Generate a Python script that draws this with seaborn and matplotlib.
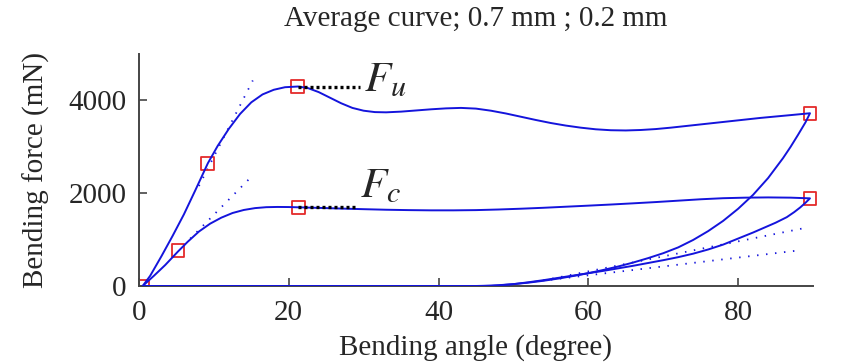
import numpy as np
import pandas as pd
import matplotlib
matplotlib.use("Agg")
import matplotlib.pyplot as plt
import seaborn as sns

# ---- data ----
# upper curve (F_u): loading 0 -> 90 deg, then unloading back to 0
fu_load_x = [0.5, 1.5, 3, 4.5, 6, 7.5, 9.2, 10.5, 12, 13.5, 15, 16.5, 18, 19.5, 21.2, 22.5, 24,
             25.5, 27, 28.5, 30, 31.5, 33, 35, 37, 39, 41, 43, 45, 47, 49, 51, 53, 55, 57, 59,
             61, 63, 65, 67, 69, 71, 73, 75, 77, 79, 81, 83, 85, 87, 89.6]
fu_load_y = [0, 220, 640, 1080, 1540, 2050, 2640, 3010, 3380, 3700, 3950, 4120, 4220, 4275, 4290,
             4260, 4170, 4050, 3930, 3830, 3770, 3740, 3735, 3750, 3775, 3800, 3820, 3830, 3815,
             3770, 3710, 3640, 3570, 3505, 3450, 3405, 3370, 3350, 3345, 3355, 3375, 3405, 3440,
             3475, 3510, 3545, 3580, 3615, 3645, 3675, 3715]
fu_unload_x = [89.6, 89, 88, 87, 86, 84, 82, 80, 78, 76, 74, 72, 70, 68, 66, 64, 62, 60, 58, 56,
               54, 52, 50, 48, 46, 45, 0.5]
fu_unload_y = [3715, 3520, 3250, 2990, 2750, 2320, 1960, 1660, 1400, 1180, 990, 830, 705, 600,
               505, 420, 345, 275, 215, 160, 112, 72, 40, 17, 4, 0, 0]

# lower curve (F_c)
fc_load_x = [0.5, 2, 3.5, 5.2, 6.5, 8, 9.5, 11, 12.5, 14, 15.5, 17, 18.5, 20, 21.3, 24, 27, 30, 33,
             36, 39, 42, 45, 48, 51, 54, 57, 60, 63, 66, 69, 72, 75, 78, 81, 84, 87, 89.6]
fc_load_y = [0, 220, 450, 740, 950, 1170, 1340, 1470, 1570, 1635, 1675, 1695, 1700, 1698, 1692,
             1680, 1665, 1652, 1640, 1632, 1627, 1627, 1632, 1645, 1662, 1682, 1705, 1728, 1752,
             1778, 1805, 1835, 1865, 1888, 1900, 1905, 1900, 1885]
fc_unload_x = [89.6, 89, 88.3, 87.5, 86.5, 85, 83.5, 82, 80, 78, 76, 74, 72, 70, 68, 66, 64, 62,
               60, 58, 56, 54, 52, 50, 48, 47, 0.5]
fc_unload_y = [1885, 1790, 1690, 1590, 1480, 1360, 1255, 1150, 1020, 890, 785, 695, 620, 555,
               495, 435, 380, 325, 275, 225, 175, 125, 80, 40, 12, 0, 0]

# dotted tangent lines
tan_u_left_x, tan_u_left_y = [8, 15.2], [2150, 4420]
tan_c_left_x, tan_c_left_y = [6, 14.8], [880, 2315]
tan_u_right_x, tan_u_right_y = [54, 89], [120, 1250]
tan_c_right_x, tan_c_right_y = [55, 88.1], [135, 765]

# characteristic points (red squares); first one sits at the origin
pt_x = [0.5, 5.2, 9.2, 21.2, 21.3, 89.6, 89.6]
pt_y = [0, 760, 2640, 4290, 1690, 3715, 1885]

# F_u / F_c reference levels
fu_level_x, fu_level_y = [21.2, 29.5], [4290, 4290]
fc_level_x, fc_level_y = [21.3, 29.3], [1690, 1690]

title = "Average curve; 0.7 mm ; 0.2 mm"
xlabel = "Bending angle (degree)"
ylabel = "Bending force (mN)"
xticks = [0, 20, 40, 60, 80]
yticks = [0, 2000, 4000]

# ---- style ----
sns.set_style("ticks")
plt.rcParams["font.family"] = ["Liberation Serif", "DejaVu Serif"]
plt.rcParams["mathtext.fontset"] = "stix"
plt.rcParams["lines.solid_joinstyle"] = "round"

BLUE = "#1414dc"
RED = "#e42a2a"
AXC = "#454545"

fig = plt.figure(figsize=(8.52, 3.64), dpi=100)
ax = fig.add_axes([0.1631, 0.2143, 0.7911, 0.6387])

upper = pd.DataFrame({"x": fu_load_x + fu_unload_x, "y": fu_load_y + fu_unload_y})
lower = pd.DataFrame({"x": fc_load_x + fc_unload_x, "y": fc_load_y + fc_unload_y})

dot_style = dict(color=BLUE, lw=1.3, linestyle=(0, (0.8, 4.2)))
for tx, ty in [(tan_u_left_x, tan_u_left_y), (tan_c_left_x, tan_c_left_y),
               (tan_u_right_x, tan_u_right_y), (tan_c_right_x, tan_c_right_y)]:
    sns.lineplot(x=tx, y=ty, ax=ax, sort=False, estimator=None, **dot_style)

sns.scatterplot(x=pt_x[:1], y=pt_y[:1], ax=ax, marker="s", s=85, facecolors="none",
                edgecolor=RED, linewidth=1.3, zorder=2)
sns.scatterplot(x=pt_x[1:], y=pt_y[1:], ax=ax, marker="s", s=85, facecolors="none",
                edgecolor=RED, linewidth=1.3, zorder=2)
ax.collections[-1].set_clip_on(False)

for df in (upper, lower):
    sns.lineplot(data=df, x="x", y="y", ax=ax, sort=False, estimator=None,
                 color=BLUE, lw=1.4, zorder=3)

for lx, ly in [(fu_level_x, fu_level_y), (fc_level_x, fc_level_y)]:
    sns.lineplot(x=lx, y=ly, ax=ax, sort=False, estimator=None,
                 color="black", lw=2.4, linestyle=(0, (0.9, 0.9)), zorder=4)

ax.text(30.1, 4180, r"$F_u$", fontsize=31, ha="left", va="baseline")
ax.text(29.5, 1915, r"$F_c$", fontsize=31, ha="left", va="baseline")

ax.set_xlim(0, 90)
ax.set_ylim(0, 5000)
ax.set_xticks(xticks)
ax.set_yticks(yticks)
ax.set_xlabel(xlabel, fontsize=21, labelpad=6)
ax.set_ylabel(ylabel, fontsize=21, labelpad=13)
ax.set_title(title, fontsize=21, pad=20)
ax.tick_params(direction="in", length=6, width=1.2, color=AXC, labelsize=21)
ax.tick_params(axis="y", pad=9)
ax.tick_params(axis="x", pad=10)
sns.despine(ax=ax)
for sp in ("left", "bottom"):
    ax.spines[sp].set_color(AXC)
    ax.spines[sp].set_linewidth(1.4)
if ax.get_legend():
    ax.get_legend().remove()

fig.savefig("out.png", dpi=100)
